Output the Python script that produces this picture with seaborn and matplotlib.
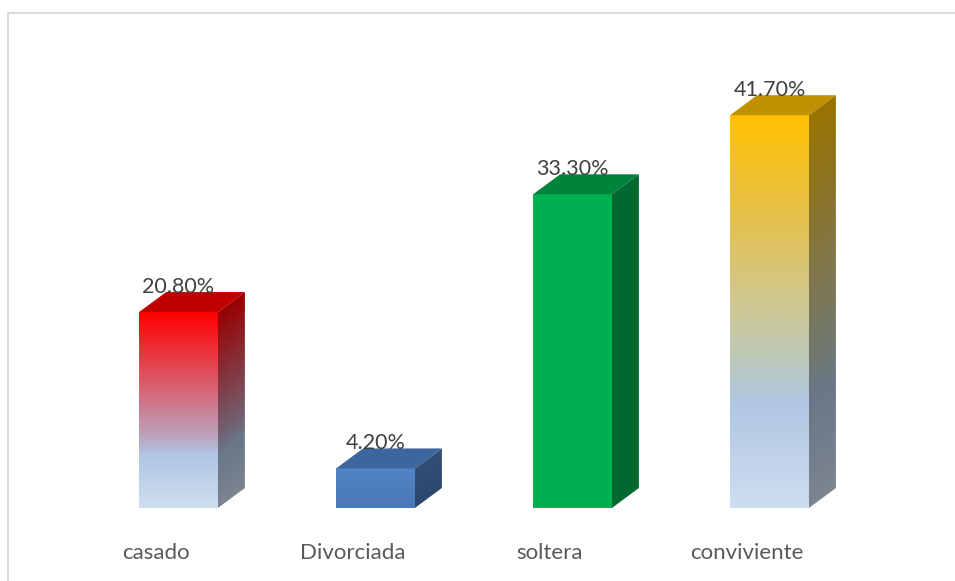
"""Estado civil: 3D-looking gradient bars, drawn with seaborn plus clipped images."""

import matplotlib

matplotlib.use("Agg")

import matplotlib.pyplot as plt
import matplotlib.transforms as mtrans
import numpy as np
import pandas as pd
import seaborn as sns
from matplotlib.colors import LinearSegmentedColormap
from matplotlib.lines import Line2D
from matplotlib.patches import Polygon

categories = ["casado", "Divorciada", "soltera", "conviviente"]
values = [20.8, 4.2, 33.3, 41.7]

W, H = 955, 581
PX_PER_UNIT = 9.42
DEPTH_X = 27 / 197  # depth of the fake 3D box, in x data units
DEPTH_Y = 20 / PX_PER_UNIT  # same, in y data units
SIDE_SHADE = 0.6

PALE = [(0.73, "#b0c6e2"), (1.0, "#cfddf0")]
front_stops = [
    [(0.0, "#ff0000"), (0.38, "#d96070"), (0.62, "#bda0b8")] + PALE,
    [(0.0, "#5283c4"), (1.0, "#4a78b8")],
    [(0.0, "#00b050"), (1.0, "#00b050")],
    [(0.0, "#ffc000"), (0.22, "#e8c040"), (0.47, "#d0c88e"), (0.62, "#bcc8b8")] + PALE,
]
top_colors = ["#c00000", "#3d669f", "#00843c", "#bf9000"]

plt.rcParams["font.family"] = ["Lato", "DejaVu Sans"]

df = pd.DataFrame({"categoria": categories, "porcentaje": values})

fig = plt.figure(figsize=(W / 100, H / 100), dpi=100, facecolor="white")
ax = fig.add_axes([80 / W, 1 - 508 / H, 788 / W, 448 / H])

sns.barplot(
    data=df,
    x="categoria",
    y="porcentaje",
    hue="categoria",
    palette=[s[0][1] for s in front_stops],
    width=0.4,
    legend=False,
    ax=ax,
)
ax.set_xlim(-0.5, 3.5)
ax.set_ylim(0, 448 / PX_PER_UNIT)

for container, stops, top_col in zip(ax.containers, front_stops, top_colors):
    patch = container[0]
    x0, x1 = patch.get_x(), patch.get_x() + patch.get_width()
    h = patch.get_height()
    cmap = LinearSegmentedColormap.from_list("g", [(1 - p, c) for p, c in reversed(stops)])

    # front face, clipped to the seaborn bar
    grad = np.linspace(1, 0, 256).reshape(-1, 1)
    im = ax.imshow(grad, cmap=cmap, vmin=0, vmax=1, extent=(x0, x1, 0, h),
                   aspect="auto", interpolation="bilinear", zorder=3)
    im.set_clip_path(patch)

    # top face
    ax.add_patch(Polygon(
        [(x0, h), (x1, h), (x1 + DEPTH_X, h + DEPTH_Y), (x0 + DEPTH_X, h + DEPTH_Y)],
        closed=True, facecolor=top_col, edgecolor="none", zorder=3,
    ))

    # side face: the gradient runs along the slanted depth
    side = Polygon(
        [(x1, 0), (x1 + DEPTH_X, DEPTH_Y), (x1 + DEPTH_X, h + DEPTH_Y), (x1, h)],
        closed=True, facecolor="none", edgecolor="none",
    )
    ax.add_patch(side)
    u, v = np.meshgrid(np.linspace(0, 1, 40), np.linspace(h + DEPTH_Y, 0, 400))
    t = np.clip((v - u * DEPTH_Y) / h, 0, 1)
    rgb = cmap(t)[..., :3] * SIDE_SHADE
    im_side = ax.imshow(rgb, extent=(x1, x1 + DEPTH_X, 0, h + DEPTH_Y),
                        aspect="auto", interpolation="bilinear", zorder=3)
    im_side.set_clip_path(side)

    ax.bar_label(container, fmt="%.2f%%", padding=11, fontsize=15.5, color="#404040", zorder=10)

ax.set_xlim(-0.5, 3.5)
ax.set_ylim(0, 448 / PX_PER_UNIT)
ax.set_xlabel("")
ax.set_ylabel("")
ax.set_yticks([])
ax.tick_params(axis="x", length=0, pad=25.5, labelsize=16, labelcolor="#595959")
shift = mtrans.ScaledTranslation(-23 / 100, 0, fig.dpi_scale_trans)
for lab in ax.get_xticklabels():
    lab.set_transform(lab.get_transform() + shift)
sns.despine(ax=ax, left=True, bottom=True)

# light frame of the chart area, cut off by the image edge
frame = dict(color="#d9d9d9", linewidth=1.4, transform=fig.transFigure)
fig.add_artist(Line2D([8 / W, 8 / W], [0, 1 - 13 / H], **frame))
fig.add_artist(Line2D([8 / W, 1], [1 - 13 / H, 1 - 13 / H], **frame))

fig.savefig("out.png", dpi=100)
plt.close(fig)
